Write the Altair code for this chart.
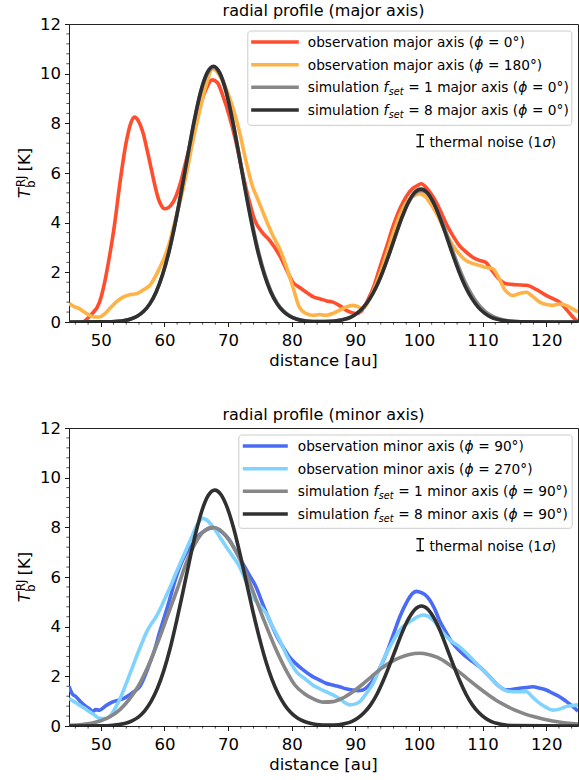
import altair as alt
import pandas as pd

FONT = "DejaVu Sans"

# ---------------- major axis profiles: distance [au], T_b [K] ----------------
maj_phi0_d = [45, 46.5, 47.5, 48.5, 49.8, 50.6, 51.4, 52.2, 52.9, 54.0, 54.7, 55.3, 55.9, 56.6,
              57.3, 57.9, 58.5, 59.0, 59.5, 60.0, 60.6, 61.3, 62.4, 63.4, 64.5, 65.5, 66.5, 67.5,
              68.3, 69.2, 70.2, 71.2, 72.2, 73.2, 74.2, 75.4, 76.5, 78.1, 79.2, 80.2, 81.2, 82.3,
              83.5, 84.4, 85.5, 86.5, 87.6, 88.6, 89.4, 90.1, 91.0, 92.0, 93.0, 93.8, 95.0, 96.0,
              97.0, 98.0, 99.0, 99.8, 100.4, 101.0, 101.8, 102.7, 103.6, 104.5, 105.3, 106.3, 107.4,
              108.5, 109.5, 110.5, 111.4, 112.5, 113.7, 115.3, 116.9, 118.5, 120.0, 121.0, 122.1,
              123.2, 124.2, 125.0]
maj_phi0_T = [-0.5, -0.15, 0.05, 0.3, 0.8, 1.6, 2.7, 4.0, 5.4, 7.25, 8.0, 8.25, 8.1, 7.65,
              6.9, 6.2, 5.5, 5.0, 4.7, 4.56, 4.6, 4.8, 5.5, 6.5, 7.6, 8.6, 9.35, 9.75,
              9.65, 9.1, 8.3, 7.3, 6.1, 5.0, 4.1, 3.6, 3.3, 2.68, 2.1, 1.6, 1.4, 1.2,
              1.0, 0.94, 0.85, 0.8, 0.65, 0.47, 0.38, 0.34, 0.45, 0.9, 1.5, 2.15, 3.1, 3.9,
              4.56, 5.05, 5.37, 5.5, 5.57, 5.45, 5.2, 4.83, 4.35, 3.85, 3.49, 3.1, 2.82,
              2.6, 2.48, 2.4, 2.1, 1.75, 1.54, 1.5, 1.48, 1.3, 1.07, 0.95, 0.8,
              0.5, 0.2, 0.0]

maj_phi180_d = [45, 45.8, 46.6, 47.4, 48.2, 49.0, 49.8, 50.6, 51.4, 52.4, 53.5, 54.5, 55.6, 56.6,
                57.7, 58.5, 59.2, 60.0, 60.8, 61.6, 62.5, 63.4, 64.4, 65.5, 66.5, 67.6, 68.5, 69.7,
                70.8, 71.8, 72.8, 73.8, 74.9, 75.9, 77.0, 78.1, 79.2, 80.2, 81.2, 82.2, 83.3, 84.4,
                85.4, 86.5, 87.5, 88.5, 89.6, 90.4, 91.2, 92.2, 93.0, 93.8, 95.0, 96.0, 97.0, 98.0,
                99.0, 100.1, 101.0, 102.0, 103.0, 104.2, 105.3, 106.3, 107.4, 108.5, 109.5, 110.5,
                111.6, 112.5, 113.5, 114.8, 115.8, 116.9, 118.0, 119.0, 120.0, 121.0, 122.0, 123.1,
                124.0, 125.0]
maj_phi180_T = [0.74, 0.62, 0.54, 0.4, 0.27, 0.2, 0.2, 0.33, 0.54, 0.8, 1.0, 1.1, 1.14, 1.28,
                1.48, 1.8, 2.15, 2.6, 3.2, 4.0, 4.9, 5.9, 7.2, 8.46, 9.5, 10.2, 10.0, 9.4,
                8.6, 7.65, 6.5, 5.5, 4.8, 4.16, 3.5, 2.95, 2.2, 1.4, 0.6, 0.35, 0.27, 0.3,
                0.27, 0.35, 0.47, 0.6, 0.67, 0.62, 0.54, 0.9, 1.35, 1.88, 2.8, 3.6, 4.3, 4.8,
                5.05, 5.17, 5.05, 4.7, 4.25, 3.6, 3.1, 2.75, 2.48, 2.35, 2.28, 2.2,
                2.15, 1.8, 1.3, 1.07, 1.15, 1.2, 1.0, 0.8, 0.7, 0.67, 0.72, 0.67,
                0.55, 0.4]

maj_sim_d = [45, 49.7, 51.7, 52.7, 53.7, 54.7, 55.7, 56.7, 57.7, 58.7, 59.7, 60.7, 61.7, 62.7,
             63.7, 64.7, 65.7, 66.7, 67.7, 68.7, 69.7, 70.7, 71.7, 72.7, 73.7, 74.7, 75.7, 76.7,
             77.7, 78.7, 79.7, 80.7, 81.7, 82.7, 84.0, 86.3, 87.3, 88.3, 89.3, 90.3, 91.3, 92.3,
             93.3, 94.3, 95.3, 96.3, 97.3, 98.3, 99.3, 100.3, 101.3, 102.3, 103.3, 104.3, 105.3,
             106.3, 107.3, 108.3, 109.3, 110.3, 111.3, 112.3, 113.3, 114.3, 116.0, 125.0]
maj_f1_T = [0.0, 0.004, 0.012, 0.027, 0.058, 0.12, 0.23, 0.42, 0.73, 1.21, 1.90, 2.82, 3.98, 5.32,
            6.75, 8.12, 9.27, 9.98, 10.25, 9.98, 9.27, 8.12, 6.78, 5.4, 4.08, 2.92, 1.98, 1.27,
            0.77, 0.45, 0.25, 0.13, 0.065, 0.03, 0.016, 0.027, 0.055, 0.11, 0.20, 0.36, 0.60, 0.95,
            1.42, 2.02, 2.72, 3.47, 4.19, 4.78, 5.17, 5.3, 5.18, 4.8, 4.25, 3.58, 2.86,
            2.18, 1.58, 1.1, 0.72, 0.45, 0.27, 0.15, 0.08, 0.04, 0.012, 0.0]
maj_f8_T = [0.0, 0.004, 0.012, 0.027, 0.058, 0.12, 0.23, 0.42, 0.73, 1.21, 1.90, 2.82, 3.98, 5.32,
            6.75, 8.12, 9.27, 10.03, 10.3, 10.03, 9.27, 8.12, 6.75, 5.32, 3.98, 2.82, 1.90, 1.21,
            0.73, 0.42, 0.23, 0.12, 0.058, 0.027, 0.015, 0.027, 0.055, 0.11, 0.20, 0.36, 0.60, 0.95,
            1.42, 2.02, 2.72, 3.47, 4.19, 4.80, 5.21, 5.35, 5.21, 4.80, 4.19, 3.47, 2.72,
            2.02, 1.42, 0.95, 0.60, 0.36, 0.20, 0.11, 0.055, 0.027, 0.008, 0.0]

# ---------------- minor axis profiles ----------------
min_phi90_d = [45, 45.5, 46.1, 46.9, 47.7, 48.2, 48.7, 49.2, 49.8, 50.6,
               51.4, 52.2, 52.9, 53.7, 54.5, 55.3, 56.1, 56.9, 57.7, 58.5,
               59.2, 60.0, 60.8, 61.6, 62.4, 63.4, 64.5, 65.5, 66.6, 67.4,
               68.1, 69.1, 70.2, 71.2, 72.3, 73.3, 74.4, 75.4, 76.5, 77.5,
               78.6, 79.6, 80.7, 81.7, 83.3, 84.4, 85.4, 86.4, 87.5, 88.5,
               89.6, 90.4, 91.2, 92.0, 92.8, 93.8, 94.9, 96.0, 97.0, 98.0,
               99.0, 99.6, 100.1, 100.9, 101.7, 102.5, 103.2, 104.2, 105.3, 106.3,
               107.4, 108.5, 109.5, 110.5, 111.6, 112.6, 113.7, 114.8, 115.8, 116.9,
               117.9, 119.0, 120.0, 121.0, 122.1, 123.1, 124.2, 125.0]
min_phi90_T = [1.6, 1.3, 1.18, 0.95, 0.78, 0.7, 0.58, 0.66, 0.64, 0.78,
               0.91, 1.0, 1.05, 1.12, 1.25, 1.4, 1.58, 2.0, 2.53, 3.1,
               3.74, 4.4, 5.07, 5.8, 6.4, 6.95, 7.35, 7.7, 7.9, 7.98,
               7.95, 7.8, 7.5, 7.05, 6.55, 6.1, 5.6, 4.95, 4.27, 3.7,
               3.2, 2.8, 2.5, 2.28, 1.99, 1.85, 1.72, 1.65, 1.58, 1.5,
               1.45, 1.42, 1.45, 1.6, 1.85, 2.3, 2.93, 3.7, 4.4, 4.95,
               5.34, 5.42, 5.4, 5.3, 5.07, 4.7, 4.27, 3.8, 3.33, 3.05,
               2.79, 2.58, 2.39, 2.15, 1.85, 1.6, 1.45, 1.48, 1.52, 1.55,
               1.58, 1.52, 1.45, 1.32, 1.18, 1.0, 0.78, 0.6]

min_phi270_d = [45, 45.8, 46.6, 47.4, 48.2, 49.0, 49.8, 50.8, 51.6, 52.4,
                53.2, 54.0, 54.8, 55.6, 56.4, 57.1, 57.9, 58.7, 59.5, 60.2,
                61.0, 61.8, 62.6, 63.4, 64.2, 65.0, 65.5, 66.0, 66.6, 67.6,
                68.6, 69.7, 70.7, 71.8, 72.8, 73.9, 75.0, 76.0, 77.0, 78.1,
                79.4, 80.7, 82.2, 83.3, 84.4, 85.4, 86.5, 87.5, 88.3, 89.1,
                89.9, 90.7, 91.7, 92.8, 93.8, 94.9, 96.0, 97.0, 98.0, 99.0,
                99.8, 100.6, 101.4, 102.2, 103.2, 104.3, 105.3, 106.4, 107.4, 108.5,
                109.5, 110.6, 111.6, 112.7, 113.7, 114.8, 115.8, 116.9, 117.9, 119.0,
                120.0, 121.0, 122.1, 123.1, 124.0, 125.0]
min_phi270_T = [1.11, 0.98, 0.85, 0.72, 0.58, 0.44, 0.31, 0.3, 0.45, 0.78,
                1.2, 1.72, 2.25, 2.79, 3.3, 3.73, 4.1, 4.4, 4.8, 5.2,
                5.65, 6.15, 6.62, 7.09, 7.55, 8.03, 8.25, 8.36, 8.3, 8.03,
                7.65, 7.22, 6.85, 6.42, 5.85, 5.2, 4.85, 4.53, 4.0, 3.46,
                2.75, 2.2, 1.88, 1.65, 1.5, 1.38, 1.25, 1.11, 0.95, 0.85,
                0.88, 0.98, 1.3, 1.72, 2.3, 2.93, 3.45, 3.87, 4.1, 4.27,
                4.4, 4.47, 4.42, 4.27, 3.95, 3.6, 3.38, 3.19, 2.95, 2.66,
                2.4, 2.12, 1.85, 1.58, 1.42, 1.38, 1.38, 1.38, 1.15, 0.91,
                0.75, 0.64, 0.68, 0.78, 0.82, 0.85]

min_f1_d = [45, 47, 48.5, 50, 51.5, 53, 54.5, 56, 57.5, 59,
            60.5, 62, 63.5, 65, 66.3, 67.5, 68.7, 69.5, 71.5, 73.5,
            75.5, 77.5, 79, 80.5, 82, 83.5, 85, 86.5, 88, 89.5,
            91, 92.5, 94, 95.5, 97, 98.5, 100.1, 101.5, 103, 104.5,
            106, 107.5, 109, 110.5, 112, 113.5, 115, 116.5, 118, 119.5,
            121, 122.5, 124, 125]
min_f1_T = [0.03, 0.06, 0.11, 0.21, 0.38, 0.66, 1.08, 1.66, 2.45, 3.4,
            4.45, 5.5, 6.62, 7.43, 7.87, 8.0, 7.9, 7.7, 6.9, 5.7,
            4.35, 3.1, 2.3, 1.65, 1.3, 1.08, 0.96, 0.98, 1.12, 1.36,
            1.65, 1.98, 2.3, 2.56, 2.75, 2.88, 2.93, 2.88, 2.75, 2.52,
            2.24, 1.93, 1.62, 1.33, 1.06, 0.84, 0.65, 0.5, 0.38, 0.28,
            0.2, 0.14, 0.1, 0.08]

min_f8_d = [45, 49.9, 51.9, 52.9, 53.9, 54.9, 55.9, 56.9, 57.9, 58.9,
            59.9, 60.9, 61.9, 62.9, 63.9, 64.9, 65.9, 66.9, 67.9, 68.9,
            69.9, 70.9, 71.9, 72.9, 73.9, 74.9, 75.9, 76.9, 77.9, 78.9,
            79.9, 80.9, 81.9, 82.9, 83.9, 84.9, 85.9, 87.4, 88.4, 89.4,
            90.4, 91.4, 92.4, 93.4, 94.4, 95.4, 96.4, 97.4, 98.4, 99.4,
            100.4, 101.4, 102.4, 103.4, 104.4, 105.4, 106.4, 107.4, 108.4, 109.4,
            110.4, 111.4, 112.4, 113.4, 115.0, 125.0]
min_f8_T = [0.0, 0.006, 0.03, 0.06, 0.11, 0.21, 0.36, 0.61, 0.99, 1.52,
            2.23, 3.13, 4.21, 5.39, 6.61, 7.75, 8.68, 9.29, 9.5, 9.31,
            8.77, 7.94, 6.90, 5.76, 4.62, 3.57, 2.64, 1.88, 1.29, 0.85,
            0.53, 0.32, 0.19, 0.11, 0.06, 0.04, 0.035, 0.05, 0.10, 0.18,
            0.32, 0.54, 0.85, 1.28, 1.83, 2.46, 3.13, 3.79, 4.33, 4.70,
            4.83, 4.70, 4.33, 3.79, 3.13, 2.46, 1.83, 1.28, 0.85, 0.54,
            0.32, 0.18, 0.10, 0.05, 0.015, 0.0]

# thermal noise marker (1 sigma)
noise_d = 100.2
noise_T = 7.3
noise_sigma = 0.24

x_ticks = [50, 60, 70, 80, 90, 100, 110, 120]
y_ticks = [0, 2, 4, 6, 8, 10, 12]
x_minor = [v for v in range(46, 125, 2) if v % 10]
y_minor = [round(0.4 * i, 1) for i in range(1, 30) if i % 5]

C_RED, C_ORANGE = "#ff4d2e", "#ffb347"
C_BLUE, C_LBLUE = "#4a6cf5", "#80d2ff"
C_GREY, C_BLACK = "#878787", "#303030"

# ---------------- layout ----------------
W, H = 509, 298
LW = 3.6
FS_TICK = 16.5
FS_LAB = 16.5
FS_TITLE = 16
FS_LEG = 13.7
FS_SUB = 9.6
SPACE = 4.35          # width of a blank at the legend font size
ROW_Y = [18, 40.7, 63.3, 86]

xscale = alt.Scale(domain=[45, 125], nice=False, zero=False)
yscale = alt.Scale(domain=[0, 12], nice=False, zero=False)
axis_common = dict(title=None, format="d", labelFont=FONT, labelFontSize=FS_TICK,
                   labelColor="black", labelOverlap=False, labelFlush=False,
                   tickSize=4.5, tickWidth=0.9, tickColor="black", domain=False, grid=False)
xaxis = alt.Axis(values=x_ticks, labelPadding=6, **axis_common)
yaxis = alt.Axis(values=y_ticks, labelPadding=4, **axis_common)


def X(f):
    return alt.X(f"{f}:Q", scale=xscale, axis=xaxis)


def Y(f):
    return alt.Y(f"{f}:Q", scale=yscale, axis=yaxis)


def PX(f):
    return alt.X(f"{f}:Q", scale=None, axis=None)


def PY(f):
    return alt.Y(f"{f}:Q", scale=None, axis=None)


def legend_segments(axis_word, x0, rows_spec):
    """Text pieces of the legend rows: (x, y, text, size, italic)."""
    adj = 0.3 if axis_word == "minor" else 0.0
    segs = []
    for yc, spec in zip(ROW_Y, rows_spec):
        yb = yc + 5
        if spec[0] == "obs":
            phi = spec[1]
            segs += [(x0, yb, f"observation {axis_word} axis (", FS_LEG, False),
                     (x0 + 166.4 + adj, yb, "ϕ", FS_LEG, True),
                     (x0 + 175.9 + SPACE + adj, yb, f"= {phi}°)", FS_LEG, False)]
        else:
            fset, phi = spec[1], spec[2]
            segs += [(x0, yb, "simulation", FS_LEG, False),
                     (x0 + 75.8, yb, "f", FS_LEG, True),
                     (x0 + 81.0, yb + 3, "set", FS_SUB, True),
                     (x0 + 96.1 + SPACE, yb, f"= {fset} {axis_word} axis (", FS_LEG, False),
                     (x0 + 210.4 + adj, yb, "ϕ", FS_LEG, True),
                     (x0 + 219.9 + SPACE + adj, yb, f"= {phi}°)", FS_LEG, False)]
    return segs


def panel(title, axis_word, profiles, rows_spec, box, swatch, text_x0):
    layers = []
    for d, T, col in profiles:
        df = pd.DataFrame({"d": d, "T": T})
        layers.append(alt.Chart(df).mark_line(color=col, strokeWidth=LW, interpolate="monotone",
                                              clip=True).encode(x=X("d"), y=Y("T")))

    # minor ticks on both axes
    layers.append(alt.Chart(pd.DataFrame({"v": x_minor})).mark_rule(color="black", strokeWidth=0.7)
                  .encode(x=X("v"), y=alt.value(H), y2=alt.value(H + 2.6)))
    layers.append(alt.Chart(pd.DataFrame({"v": y_minor})).mark_rule(color="black", strokeWidth=0.7)
                  .encode(y=Y("v"), x=alt.value(0), x2=alt.value(-2.6)))

    # legend frame and line handles
    one = pd.DataFrame({"k": [0]})
    layers.append(alt.Chart(one).mark_rect(fill="white", fillOpacity=0.8, stroke="#cccccc",
                                           strokeWidth=1, cornerRadius=3)
                  .encode(x=alt.value(box[0]), x2=alt.value(box[1]),
                          y=alt.value(box[2]), y2=alt.value(box[3])))
    sw = pd.DataFrame({"x1": [swatch[0]] * 4, "x2": [swatch[1]] * 4, "yy": ROW_Y,
                       "col": [c for _, _, c in profiles]})
    layers.append(alt.Chart(sw).mark_rule(strokeWidth=LW)
                  .encode(x=PX("x1"), x2="x2:Q", y=PY("yy"), color=alt.Color("col:N", scale=None)))

    # thermal-noise error bar
    eb = pd.DataFrame({"d": [noise_d], "lo": [noise_T - noise_sigma], "hi": [noise_T + noise_sigma]})
    layers.append(alt.Chart(eb).mark_rule(color="black", strokeWidth=1.4)
                  .encode(x=X("d"), y=Y("lo"), y2="hi:Q"))
    caps = pd.DataFrame({"c1": [noise_d - 0.6] * 2, "c2": [noise_d + 0.6] * 2,
                         "yy": [noise_T - noise_sigma, noise_T + noise_sigma]})
    layers.append(alt.Chart(caps).mark_rule(color="black", strokeWidth=1.4)
                  .encode(x=X("c1"), x2="c2:Q", y=Y("yy")))

    # all text pieces
    segs = legend_segments(axis_word, text_x0, rows_spec)
    segs += [(360.5, 123, "thermal noise (1", FS_LEG, False),
             (360.5 + 112.9, 123, "σ", FS_LEG, True),
             (360.5 + 121.3, 123, ")", FS_LEG, False)]
    rows = [dict(px=a, py=b, txt=t, fs=s, ang=0, it=i) for a, b, t, s, i in segs]
    # y-axis label: T_b^RJ [K]
    rows += [dict(px=-39.5, py=174.2, txt="T", fs=FS_LAB, ang=270, it=True),
             dict(px=-34.5, py=163.8, txt="b", fs=11.5, ang=270, it=False),
             dict(px=-44.5, py=163.0, txt="RJ", fs=11.5, ang=270, it=False),
             dict(px=-39.5, py=147.5, txt="[K]", fs=FS_LAB, ang=270, it=False)]
    tdf = pd.DataFrame(rows)
    for ital in (False, True):
        layers.append(alt.Chart(tdf[tdf["it"] == ital]).mark_text(
            align="left", baseline="alphabetic", font=FONT, color="black",
            fontStyle="italic" if ital else "normal")
            .encode(x=PX("px"), y=PY("py"), text="txt:N",
                    size=alt.Size("fs:Q", scale=None), angle=alt.Angle("ang:Q", scale=None)))

    cdf = pd.DataFrame({"px": [W / 2, W / 2], "py": [-8.5, 342], "txt": [title, "distance [au]"],
                        "fs": [FS_TITLE, FS_LAB]})
    layers.append(alt.Chart(cdf).mark_text(align="center", baseline="alphabetic", font=FONT,
                                           color="black")
                  .encode(x=PX("px"), y=PY("py"), text="txt:N", size=alt.Size("fs:Q", scale=None)))

    return alt.layer(*layers).properties(width=W, height=H)


top = panel("radial profile (major axis)", "major",
            [(maj_phi0_d, maj_phi0_T, C_RED), (maj_phi180_d, maj_phi180_T, C_ORANGE),
             (maj_sim_d, maj_f1_T, C_GREY), (maj_sim_d, maj_f8_T, C_BLACK)],
            [("obs", 0), ("obs", 180), ("sim", 1, 0), ("sim", 8, 0)],
            box=(178.8, 502.8, 7, 101.3), swatch=(182.2, 229.8), text_x0=238.8)

bottom = panel("radial profile (minor axis)", "minor",
               [(min_phi90_d, min_phi90_T, C_BLUE), (min_phi270_d, min_phi270_T, C_LBLUE),
                (min_f1_d, min_f1_T, C_GREY), (min_f8_d, min_f8_T, C_BLACK)],
               [("obs", 90), ("obs", 270), ("sim", 1, 90), ("sim", 8, 90)],
               box=(169.8, 503.2, 7, 100.3), swatch=(173.8, 218.8), text_x0=228.8)

chart = (alt.vconcat(top, bottom, spacing=36)
         .properties(padding={"left": 15, "top": 2, "right": 0, "bottom": 0})
         .configure_view(stroke="#222222", strokeWidth=1))

chart.save("out.html", embed_options={"renderer": "svg", "actions": False})
